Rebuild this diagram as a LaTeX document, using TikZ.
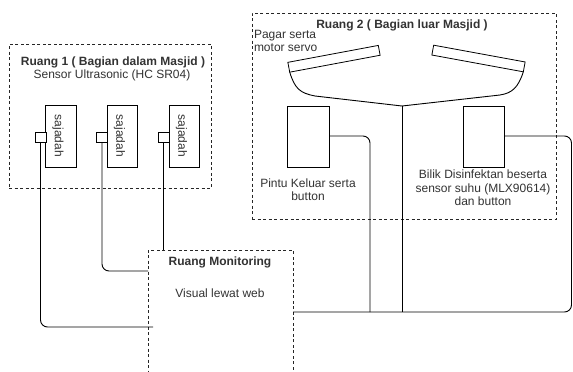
\documentclass[tikz,border=0pt]{standalone}
\usepackage{fontspec}
\setmainfont{Liberation Sans}
\usetikzlibrary{calc}
\begin{document}
\begin{tikzpicture}[x=1pt,y=-1pt,
  every node/.style={inner sep=0pt, outer sep=0pt, text=black!80, font=\fontsize{12}{13.5}\selectfont},
  dashbox/.style={draw=black!85, line width=0.8pt, dash pattern=on 3pt off 2.5pt, rectangle},
  solidbox/.style={draw=black, line width=0.8pt, rectangle},
  gate/.style={draw=black, line width=0.8pt, rectangle, minimum height=10pt},
  conn/.style={draw=black, line width=0.9pt, rounded corners=7pt},
  titletxt/.style={font=\bfseries\fontsize{12}{13.5}\selectfont},
  lbl/.style={align=center}
]
\clip (0,0) rectangle (573,372);
\fill[white] (0,0) rectangle (573,372);

% Ruang 1
\node[dashbox, minimum width=202pt, minimum height=144pt] (r1) at (110,116) {};
\node[titletxt] (r1t) at (113,62) {Ruang 1 ( Bagian dalam Masjid )};
\node (r1s) at (112,75) {Sensor Ultrasonic (HC SR04)};

\foreach \n/\cx/\qx in {1/61/40.5, 2/122.5/102, 3/184.5/163.5}{
  \node[solidbox, minimum width=30.5pt, minimum height=62pt] (s\n) at (\cx,136) {};
  \node[rotate=-90] (s\n t) at ($(\cx,136)+(-3,0)$) {sajadah};
  \node[solidbox, fill=white, minimum width=11pt, minimum height=10pt] (sq\n) at (\qx,137) {};
}

% Ruang 2
\node[dashbox, minimum width=304pt, minimum height=206pt] (r2) at (404,116) {};
\node[titletxt] (r2t) at (402,25) {Ruang 2 ( Bagian luar Masjid )};
\node[anchor=north west, align=left] (pagar) at (254,30) {Pagar serta\\motor servo};

\node[gate, rotate=10.6, minimum width=92pt] (g1) at (334,58.8) {};
\node[gate, rotate=-10.4, minimum width=93pt] (g2) at (478.5,58.5) {};

\node[solidbox, minimum width=42pt, minimum height=61pt] (pintu) at (308,136.5) {};
\node[solidbox, minimum width=41pt, minimum height=61pt] (bilik) at (483.5,136.5) {};
\node[lbl] (pintut) at (308,189.5) {Pintu Keluar serta\\button};
\node[lbl] (bilikt) at (483,188) {Bilik Disinfektan beserta\\sensor suhu (MLX90614)\\dan button};

% Ruang Monitoring
\node[dashbox, minimum width=145pt, minimum height=145pt] (mon) at (220.5,322.5) {};
\node[titletxt] (mont) at (220,262) {Ruang Monitoring};
\node (monv) at (220,293) {Visual lewat web};

% helper coordinates
\coordinate (hub) at (402,106);
\coordinate (m1) at (153,327);
\coordinate (m2) at (148,271);
\coordinate (m3) at (293,312);
\coordinate (rtop) at (571.5,136);
\coordinate (pb) at (370,312);

% connectors
\draw[line width=0.9pt] (g1.south west) .. controls (295,89) and (300,93) .. (315,96) -- (hub) -- (500,95) .. controls (512,93) and (518,88) .. (g2.south east);
\draw[line width=0.9pt] (hub) -- (hub |- m3);
\draw[conn] (pintu.east |- rtop) -| (pb);
\draw[conn] (bilik.east |- rtop) -- (rtop) -- (rtop |- m3) -- (m3);

\draw[conn] (sq1.south) |- (m1);
\draw[conn] (sq2.south) |- (m2);
\draw[line width=0.9pt] (sq3.south) -- (sq3.south |- mon.north);
\end{tikzpicture}
\end{document}
